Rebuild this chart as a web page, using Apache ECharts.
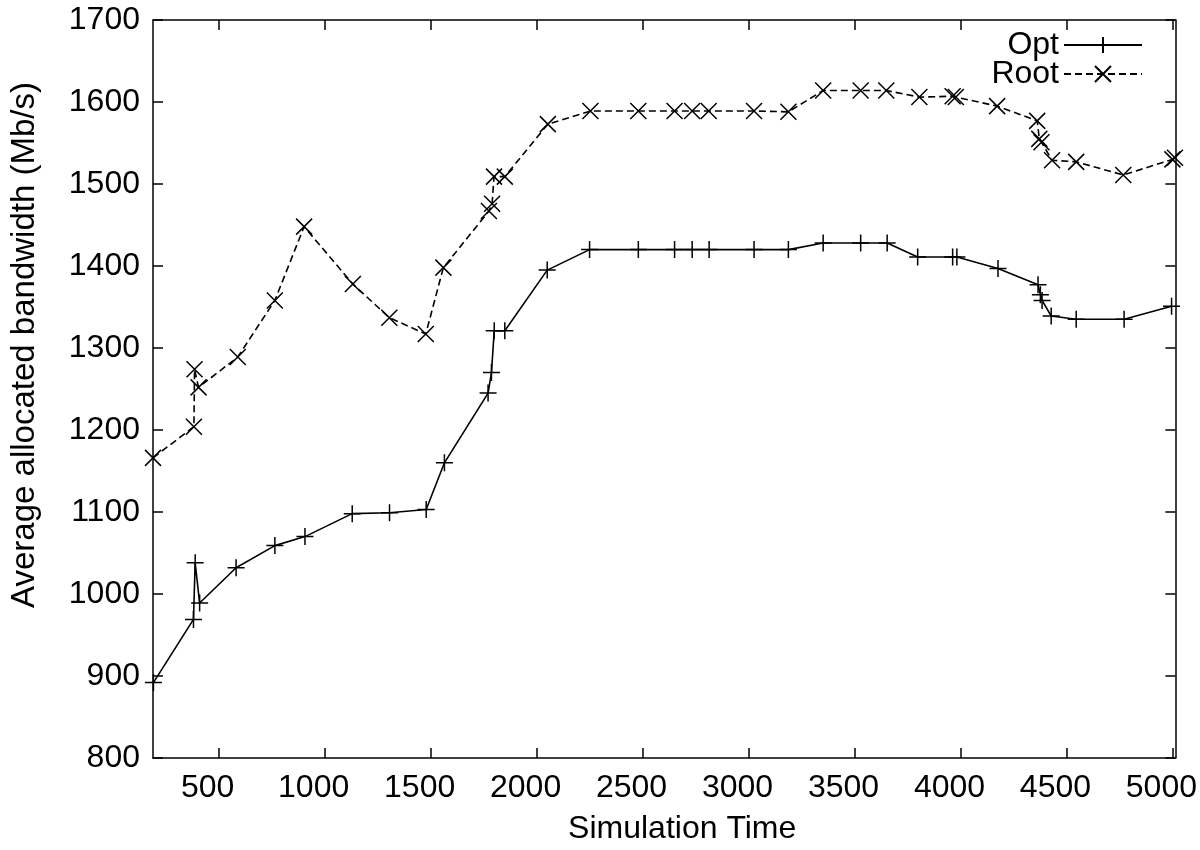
<!DOCTYPE html>
<html>
<head>
<meta charset="utf-8">
<script src="https://cdn.jsdelivr.net/npm/echarts@6/dist/echarts.min.js"></script>
<style>
html,body{margin:0;padding:0;background:#fff;}
#chart{width:1200px;height:850px;}
</style>
</head>
<body>
<div id="chart"></div>
<script>
// ---- data ----
const xTicks = [500, 1000, 1500, 2000, 2500, 3000, 3500, 4000, 4500, 5000];

const optX = [192, 381, 389, 410, 582, 765, 907, 1130, 1306, 1479, 1565, 1771, 1787, 1800, 1850, 2050, 2250, 2480, 2651, 2734, 2814, 3026, 3188, 3352, 3529, 3654, 3798, 3963, 3983, 4177, 4366, 4377, 4385, 4428, 4546, 4772, 4996];
const optY = [892, 969, 1038, 989, 1032, 1059, 1070, 1098, 1099, 1103, 1160, 1245, 1270, 1321, 1321, 1395, 1420, 1420, 1420, 1420, 1420, 1420, 1420, 1428, 1428, 1428, 1411, 1411, 1411, 1397, 1377, 1365, 1358, 1339, 1335, 1335, 1351];

const rootX = [190, 383, 386, 405, 590, 765, 903, 1133, 1305, 1477, 1560, 1775, 1790, 1799, 1850, 2053, 2254, 2480, 2651, 2734, 2812, 3026, 3188, 3352, 3529, 3650, 3806, 3963, 3978, 4173, 4362, 4372, 4382, 4432, 4546, 4768, 5000, 5012];
const rootY = [1166, 1204, 1274, 1252, 1289, 1358, 1448, 1378, 1337, 1317, 1398, 1467, 1476, 1509, 1509, 1573, 1589, 1589, 1589, 1589, 1589, 1589, 1588, 1614, 1614, 1614, 1606, 1607, 1606, 1595, 1577, 1555, 1551, 1529, 1527, 1511, 1530, 1532];

const seriesNames = ['Opt', 'Root'];
const xTitle = 'Simulation Time';
const yTitle = 'Average allocated bandwidth (Mb/s)';

// ---- chart ----
const FONT = "'Liberation Sans', Arial, Helvetica, sans-serif";
const zip = (xs, ys) => xs.map((x, i) => [x, ys[i]]);
const plain = v => String(v);
const plusPath = 'path://M5,0L5,10M0,5L10,5';
const crossPath = 'path://M0,0L10,10M10,0L0,10';

const axisLineStyle = { color: '#000', width: 1.5 };
const tickStyle = { color: '#000', width: 1.5 };

const chart = echarts.init(document.getElementById('chart'), null, { renderer: 'canvas' });
chart.setOption({
  animation: false,
  backgroundColor: '#fff',
  textStyle: { fontFamily: FONT, color: '#000' },
  grid: { left: 148, right: 24, top: 20, bottom: 85, containLabel: false },
  legend: {
    orient: 'vertical',
    right: 52,
    top: 24,
    align: 'right',
    itemWidth: 78,
    itemHeight: 20,
    itemGap: -3,
    selectedMode: false,
    data: seriesNames,
    textStyle: { fontSize: 32, color: '#000', fontFamily: FONT }
  },
  xAxis: [
    {
      type: 'value', position: 'bottom', min: 190, max: 5014,
      axisLine: { show: true, onZero: false, lineStyle: axisLineStyle },
      axisTick: { show: true, inside: true, length: 10, lineStyle: tickStyle, customValues: xTicks },
      axisLabel: { show: true, customValues: xTicks, formatter: plain, fontSize: 32, color: '#000', fontFamily: FONT, margin: 14, padding: [0, 22, 0, 0] },
      splitLine: { show: false },
      name: xTitle, nameLocation: 'middle', nameGap: 55,
      nameTextStyle: { fontSize: 32, color: '#000', fontFamily: FONT, padding: [0, 0, 0, 36] }
    },
    {
      type: 'value', position: 'top', min: 190, max: 5014,
      axisLine: { show: true, onZero: false, lineStyle: axisLineStyle },
      axisTick: { show: true, inside: true, length: 10, lineStyle: tickStyle, customValues: xTicks },
      axisLabel: { show: false },
      splitLine: { show: false }
    }
  ],
  yAxis: [
    {
      type: 'value', position: 'left', min: 800, max: 1700, interval: 100,
      axisLine: { show: true, onZero: false, lineStyle: axisLineStyle },
      axisTick: { show: true, inside: true, length: 10, lineStyle: tickStyle },
      axisLabel: { show: true, formatter: plain, fontSize: 32, color: '#000', fontFamily: FONT, margin: 13 },
      splitLine: { show: false },
      name: yTitle, nameLocation: 'middle', nameGap: 112, nameRotate: 90,
      nameTextStyle: { fontSize: 33, color: '#000', fontFamily: FONT, padding: [0, 0, 0, 88] }
    },
    {
      type: 'value', position: 'right', min: 800, max: 1700, interval: 100,
      axisLine: { show: true, onZero: false, lineStyle: axisLineStyle },
      axisTick: { show: true, inside: true, length: 10, lineStyle: tickStyle },
      axisLabel: { show: false },
      splitLine: { show: false }
    }
  ],
  series: [
    {
      name: seriesNames[0], type: 'line', xAxisIndex: 0, yAxisIndex: 0,
      data: zip(optX, optY),
      symbol: plusPath, symbolSize: 17, showSymbol: true, showAllSymbol: true,
      lineStyle: { color: '#000', width: 1.6, type: 'solid' },
      itemStyle: { color: '#000', borderColor: '#000', borderWidth: 1.5 },
      emphasis: { disabled: true }
    },
    {
      name: seriesNames[1], type: 'line', xAxisIndex: 0, yAxisIndex: 0,
      data: zip(rootX, rootY),
      symbol: crossPath, symbolSize: 16, showSymbol: true, showAllSymbol: true,
      lineStyle: { color: '#000', width: 1.6, type: [7, 4] },
      itemStyle: { color: '#000', borderColor: '#000', borderWidth: 1.5 },
      emphasis: { disabled: true }
    }
  ]
});
</script>
</body>
</html>
